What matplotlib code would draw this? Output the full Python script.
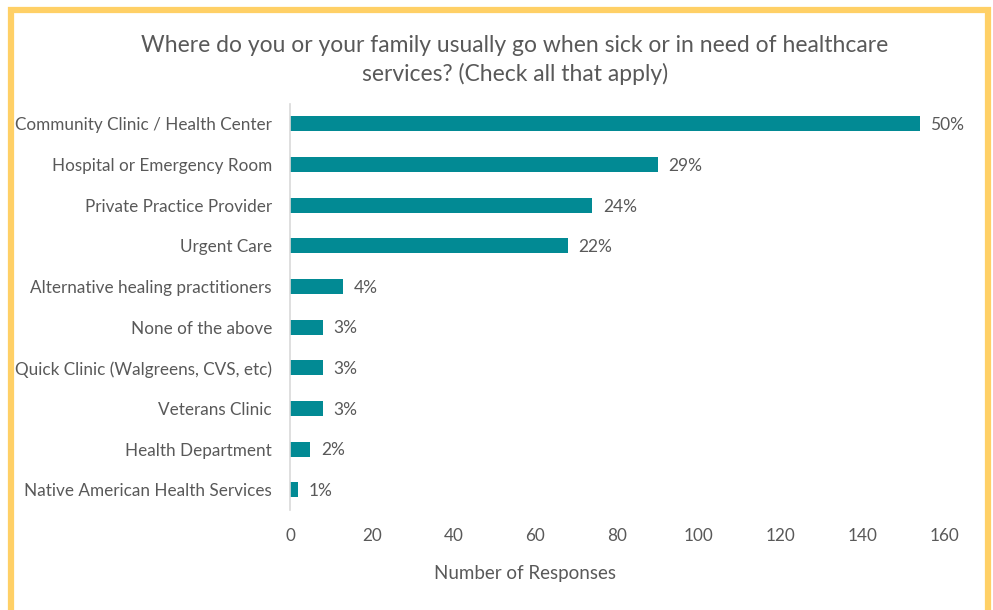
import matplotlib.pyplot as plt
from matplotlib.patches import Rectangle

categories = [
    'Community Clinic / Health Center',
    'Hospital or Emergency Room',
    'Private Practice Provider',
    'Urgent Care',
    'Alternative healing practitioners',
    'None of the above',
    'Quick Clinic (Walgreens, CVS, etc)',
    'Veterans Clinic',
    'Health Department',
    'Native American Health Services',
]
responses = [154, 90, 74, 68, 13, 8, 8, 8, 5, 2]
pct_labels = ['50%', '29%', '24%', '22%', '4%', '3%', '3%', '3%', '2%', '1%']

text_color = '#595959'
bar_color = '#028A94'

plt.rcParams['font.family'] = ['Lato', 'DejaVu Sans']

fig = plt.figure(figsize=(9.93, 6.10), dpi=100)
ax = fig.add_axes([0.2920, 0.1639, 0.6587, 0.6664])

y = list(range(len(categories)))
ax.barh(y, responses, height=0.37, color=bar_color)
ax.set_ylim(len(categories) - 0.5, -0.5)
ax.set_xlim(0, 160)
ax.set_xticks(range(0, 161, 20))
ax.set_yticks(y)
ax.set_yticklabels(categories, fontsize=12.3)

for yi, val, lab in zip(y, responses, pct_labels):
    ax.annotate(lab, (val, yi), xytext=(7.5, -1), textcoords='offset points',
                va='center', ha='left', fontsize=12.5, color=text_color)

for side in ['top', 'right', 'bottom']:
    ax.spines[side].set_visible(False)
ax.spines['left'].set_color('#d9d9d9')
ax.spines['left'].set_linewidth(1.2)
ax.tick_params(axis='both', length=0, colors=text_color)
ax.tick_params(axis='x', pad=13, labelsize=12.3)
ax.tick_params(axis='y', pad=13)
ax.set_xlabel('Number of Responses', fontsize=13.5, color=text_color)
ax.xaxis.set_label_coords(0.359, -0.136)

fig.text(0.5186, 0.9016,
         'Where do you or your family usually go when sick or in need of healthcare\n'
         'services? (Check all that apply)',
         ha='center', va='center', fontsize=16.5, color=text_color, linespacing=1.35)

# yellow frame around the chart, open at the bottom edge
fig.patches.append(Rectangle((11 / 993, -0.05), (988 - 11) / 993, 1 - 10 / 610 + 0.05,
                             transform=fig.transFigure, fill=False,
                             edgecolor='#FFD066', linewidth=4.5))

fig.savefig('out.png', dpi=100)
